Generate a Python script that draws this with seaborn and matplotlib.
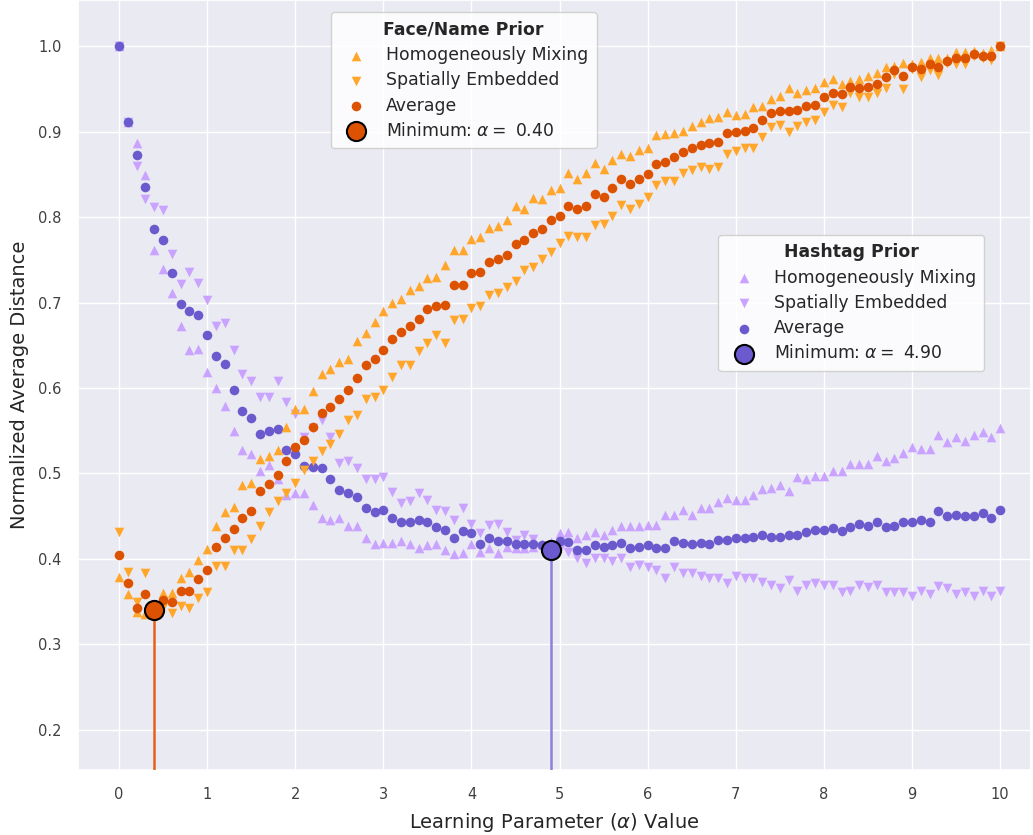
import numpy as np
import matplotlib
matplotlib.use("Agg")
import matplotlib.pyplot as plt
import seaborn as sns

# Learning parameter grid (alpha = 0.0, 0.1, ..., 10.0)
alpha_values = np.linspace(0, 10, 101)

# Face/Name prior: normalized average distance per network type
face_mixing = [
    0.379, 0.359, 0.338, 0.335, 0.345, 0.360, 0.360, 0.378, 0.385, 0.399,
    0.412, 0.438, 0.455, 0.461, 0.487, 0.489, 0.517, 0.520, 0.528, 0.554,
    0.575, 0.575, 0.597, 0.616, 0.622, 0.630, 0.634, 0.655, 0.664, 0.677,
    0.690, 0.699, 0.704, 0.715, 0.719, 0.729, 0.730, 0.744, 0.761, 0.762,
    0.774, 0.777, 0.787, 0.790, 0.796, 0.813, 0.810, 0.822, 0.821, 0.832,
    0.834, 0.851, 0.845, 0.851, 0.863, 0.856, 0.867, 0.874, 0.871, 0.878,
    0.881, 0.896, 0.897, 0.898, 0.901, 0.906, 0.911, 0.916, 0.917, 0.923,
    0.920, 0.921, 0.929, 0.930, 0.938, 0.942, 0.951, 0.945, 0.949, 0.951,
    0.958, 0.961, 0.956, 0.959, 0.962, 0.965, 0.969, 0.976, 0.977, 0.980,
    0.979, 0.982, 0.986, 0.986, 0.986, 0.993, 0.993, 0.994, 0.992, 0.995,
    1.000,
]
face_spatial = [
    0.431, 0.385, 0.349, 0.384, 0.334, 0.344, 0.337, 0.345, 0.343, 0.354,
    0.361, 0.392, 0.392, 0.411, 0.411, 0.423, 0.439, 0.455, 0.468, 0.477,
    0.489, 0.504, 0.514, 0.526, 0.535, 0.546, 0.563, 0.568, 0.587, 0.589,
    0.598, 0.613, 0.627, 0.627, 0.643, 0.653, 0.662, 0.653, 0.680, 0.681,
    0.694, 0.696, 0.709, 0.711, 0.718, 0.725, 0.738, 0.741, 0.751, 0.759,
    0.770, 0.778, 0.777, 0.777, 0.791, 0.792, 0.801, 0.814, 0.810, 0.815,
    0.823, 0.837, 0.842, 0.842, 0.852, 0.855, 0.859, 0.856, 0.859, 0.874,
    0.877, 0.881, 0.881, 0.894, 0.905, 0.908, 0.900, 0.907, 0.911, 0.913,
    0.923, 0.931, 0.929, 0.945, 0.940, 0.940, 0.945, 0.951, 0.967, 0.950,
    0.973, 0.964, 0.972, 0.966, 0.980, 0.979, 0.979, 0.988, 0.986, 0.984,
    1.000,
]
face_average = [
    0.404, 0.372, 0.343, 0.359, 0.340, 0.352, 0.349, 0.362, 0.363, 0.377,
    0.387, 0.414, 0.424, 0.435, 0.448, 0.456, 0.479, 0.488, 0.498, 0.514,
    0.531, 0.539, 0.554, 0.571, 0.578, 0.587, 0.598, 0.612, 0.627, 0.634,
    0.645, 0.657, 0.666, 0.672, 0.681, 0.692, 0.696, 0.697, 0.720, 0.721,
    0.734, 0.736, 0.748, 0.751, 0.756, 0.769, 0.773, 0.781, 0.786, 0.796,
    0.801, 0.813, 0.810, 0.813, 0.827, 0.824, 0.834, 0.844, 0.839, 0.845,
    0.850, 0.862, 0.865, 0.870, 0.876, 0.881, 0.884, 0.887, 0.888, 0.898,
    0.899, 0.901, 0.904, 0.913, 0.922, 0.924, 0.924, 0.925, 0.930, 0.931,
    0.941, 0.945, 0.944, 0.952, 0.951, 0.952, 0.956, 0.964, 0.972, 0.965,
    0.976, 0.973, 0.979, 0.976, 0.983, 0.986, 0.986, 0.991, 0.989, 0.989,
    1.000,
]

# Hashtag prior: normalized average distance per network type
hashtag_mixing = [
    1.000, 0.911, 0.887, 0.849, 0.761, 0.739, 0.711, 0.673, 0.644, 0.646,
    0.619, 0.600, 0.579, 0.550, 0.528, 0.523, 0.503, 0.510, 0.493, 0.475,
    0.477, 0.477, 0.463, 0.448, 0.446, 0.448, 0.438, 0.438, 0.425, 0.418,
    0.419, 0.419, 0.421, 0.417, 0.413, 0.416, 0.417, 0.411, 0.406, 0.407,
    0.418, 0.408, 0.413, 0.407, 0.414, 0.413, 0.413, 0.414, 0.418, 0.420,
    0.430, 0.432, 0.424, 0.428, 0.431, 0.428, 0.434, 0.439, 0.439, 0.439,
    0.440, 0.440, 0.451, 0.451, 0.457, 0.451, 0.459, 0.459, 0.467, 0.471,
    0.469, 0.469, 0.475, 0.482, 0.483, 0.487, 0.479, 0.496, 0.493, 0.497,
    0.497, 0.503, 0.503, 0.511, 0.511, 0.511, 0.520, 0.514, 0.518, 0.524,
    0.531, 0.529, 0.529, 0.545, 0.537, 0.543, 0.538, 0.545, 0.549, 0.543,
    0.553,
]
hashtag_spatial = [
    1.000, 0.911, 0.860, 0.821, 0.812, 0.808, 0.757, 0.722, 0.736, 0.723,
    0.703, 0.673, 0.676, 0.645, 0.616, 0.608, 0.589, 0.590, 0.608, 0.584,
    0.570, 0.543, 0.553, 0.563, 0.543, 0.512, 0.515, 0.506, 0.494, 0.494,
    0.496, 0.478, 0.465, 0.468, 0.477, 0.469, 0.457, 0.456, 0.446, 0.459,
    0.441, 0.430, 0.440, 0.441, 0.431, 0.422, 0.428, 0.423, 0.414, 0.400,
    0.412, 0.408, 0.401, 0.395, 0.401, 0.401, 0.397, 0.401, 0.390, 0.393,
    0.391, 0.387, 0.378, 0.390, 0.383, 0.384, 0.380, 0.378, 0.378, 0.372,
    0.380, 0.378, 0.378, 0.373, 0.369, 0.366, 0.375, 0.363, 0.369, 0.372,
    0.370, 0.369, 0.361, 0.362, 0.370, 0.367, 0.369, 0.361, 0.361, 0.361,
    0.357, 0.363, 0.359, 0.368, 0.366, 0.359, 0.361, 0.357, 0.363, 0.357,
    0.363,
]
hashtag_average = [
    1.000, 0.911, 0.873, 0.835, 0.786, 0.773, 0.734, 0.698, 0.690, 0.685,
    0.662, 0.637, 0.628, 0.598, 0.573, 0.565, 0.546, 0.550, 0.552, 0.528,
    0.523, 0.509, 0.508, 0.506, 0.494, 0.481, 0.477, 0.472, 0.460, 0.455,
    0.457, 0.448, 0.443, 0.443, 0.446, 0.443, 0.437, 0.434, 0.425, 0.433,
    0.430, 0.418, 0.424, 0.421, 0.421, 0.418, 0.417, 0.418, 0.416, 0.410,
    0.421, 0.420, 0.411, 0.411, 0.416, 0.414, 0.416, 0.419, 0.413, 0.414,
    0.416, 0.413, 0.413, 0.421, 0.419, 0.418, 0.419, 0.418, 0.422, 0.422,
    0.425, 0.424, 0.426, 0.428, 0.426, 0.426, 0.428, 0.428, 0.431, 0.434,
    0.434, 0.436, 0.433, 0.437, 0.441, 0.438, 0.443, 0.437, 0.438, 0.443,
    0.443, 0.446, 0.443, 0.456, 0.450, 0.451, 0.450, 0.450, 0.454, 0.448,
    0.457,
]

series_labels = ["Homogeneously Mixing", "Spatially Embedded", "Average"]
prior_titles = ["Face/Name Prior", "Hashtag Prior"]

Y_BOTTOM, Y_TOP = 0.153, 1.054

sns.set_theme(style="darkgrid")
plt.rcParams["font.family"] = ["DejaVu Sans"]

fig = plt.figure(figsize=(10.33, 8.35), dpi=100)
ax = fig.add_axes([78 / 1033, 65 / 835, 953 / 1033, 770 / 835])


def draw_prior(mixing, spatial, average, tri_color, dot_color, line_color, z):
    handles = []
    for values, marker, color in ((mixing, "^", tri_color),
                                  (spatial, "v", tri_color),
                                  (average, "o", dot_color)):
        sns.scatterplot(x=alpha_values, y=values, marker=marker, color=color,
                        s=48, linewidth=0, ax=ax, legend=False, zorder=z)
        handles.append(ax.collections[-1])

    # lowest average distance, marked with a stem down to the x axis
    avg = np.asarray(average)
    idx = int(np.argmin(avg))
    best_alpha, best_value = alpha_values[idx], avg[idx]
    ax.vlines(best_alpha, Y_BOTTOM, best_value, color=line_color,
              linewidth=1.8, zorder=z + 1)
    sns.scatterplot(x=[best_alpha], y=[best_value], marker="o", color=dot_color,
                    s=190, edgecolor="black", linewidth=1.5, ax=ax,
                    legend=False, zorder=z + 2)
    handles.append(ax.collections[-1])
    labels = series_labels + [rf"Minimum: $\alpha=$ {best_alpha:.2f}"]
    return handles, labels


hash_handles, hash_labels = draw_prior(
    hashtag_mixing, hashtag_spatial, hashtag_average,
    "#c9a3ff", "#6a5acd", "#8c80da", z=3)
face_handles, face_labels = draw_prior(
    face_mixing, face_spatial, face_average,
    "#ffa62b", "#dd5200", "#e4621e", z=6)

legend_kw = dict(loc="upper left", borderaxespad=0, fontsize=12.4,
                 title_fontproperties={"weight": "bold", "size": 12.4},
                 frameon=True, facecolor="white", framealpha=0.85,
                 edgecolor="0.8", labelspacing=0.42, handletextpad=0.7,
                 borderpad=0.5)
face_legend = ax.legend(face_handles, face_labels, title=prior_titles[0],
                        bbox_to_anchor=(0.265, 0.984), **legend_kw)
face_legend.set_zorder(20)
ax.add_artist(face_legend)
hash_legend = ax.legend(hash_handles, hash_labels, title=prior_titles[1],
                        bbox_to_anchor=(0.672, 0.695), **legend_kw)
hash_legend.set_zorder(20)

ax.set_xlim(-0.465, 10.35)
ax.set_ylim(Y_BOTTOM, Y_TOP)
ax.set_xticks(range(0, 11))
ax.set_yticks(np.round(np.arange(0.2, 1.01, 0.1), 1))
ax.set_yticklabels([f"{t:.1f}" for t in np.arange(0.2, 1.01, 0.1)])
ax.tick_params(axis="both", length=0, pad=12, labelsize=10.5, colors="0.25")
ax.set_xlabel(r"Learning Parameter ($\alpha$) Value", fontsize=14,
              labelpad=7, color="0.15")
ax.set_ylabel("Normalized Average Distance", fontsize=14, labelpad=6,
              color="0.15")

fig.savefig("out.png", dpi=100)
